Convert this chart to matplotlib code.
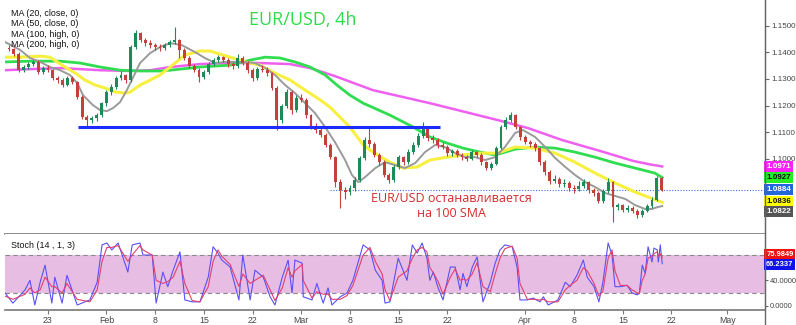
import numpy as np
import matplotlib
matplotlib.use('Agg')
import matplotlib.pyplot as plt
from matplotlib.lines import Line2D

plt.rcParams['font.family'] = ['Liberation Sans', 'DejaVu Sans']

# 12h candles, x = bar index
first_open = 1.1418
closes = [1.1412, 1.1395, 1.1333, 1.1345, 1.1356, 1.1364, 1.1326, 1.1341, 1.1333, 1.1303,
          1.1296, 1.1277, 1.1303, 1.1288, 1.1232, 1.1157, 1.1146, 1.1153, 1.1164, 1.1209,
          1.1251, 1.1270, 1.1303, 1.1315, 1.1296, 1.1420, 1.1472, 1.1446, 1.1435, 1.1427,
          1.1420, 1.1416, 1.1427, 1.1439, 1.1446, 1.1409, 1.1379, 1.1349, 1.1333, 1.1307,
          1.1326, 1.1356, 1.1371, 1.1382, 1.1371, 1.1356, 1.1349, 1.1379, 1.1360, 1.1333,
          1.1303, 1.1337, 1.1333, 1.1322, 1.1266, 1.1146, 1.1198, 1.1251, 1.1183, 1.1228,
          1.1221, 1.1164, 1.1119, 1.1108, 1.1089, 1.1052, 1.1006, 1.0912, 1.0882, 1.0875,
          1.0890, 1.0920, 1.1003, 1.1070, 1.1055, 1.1014, 1.0987, 1.0939, 1.0920, 1.0969,
          1.1006, 1.0987, 1.1025, 1.1052, 1.1085, 1.1115, 1.1078, 1.1070, 1.1052, 1.1044,
          1.1021, 1.1028, 1.1014, 1.1006, 1.1000, 1.1025, 1.1014, 1.0987, 1.0965, 1.0980,
          1.1040, 1.1119, 1.1146, 1.1164, 1.1119, 1.1082, 1.1063, 1.1055, 1.1040, 1.0987,
          1.0950, 1.0916, 1.0924, 1.0905, 1.0909, 1.0890, 1.0885, 1.0898, 1.0912, 1.0882,
          1.0871, 1.0841, 1.0879, 1.0912, 1.0818, 1.0825, 1.0807, 1.0815, 1.0803, 1.0788,
          1.0803, 1.0822, 1.0845, 1.0927, 1.0884]
highs = [1.1428, 1.1418, 1.1400, 1.1352, 1.1362, 1.1372, 1.1370, 1.1350, 1.1352, 1.1338,
         1.1312, 1.1305, 1.1310, 1.1312, 1.1294, 1.1238, 1.1165, 1.1162, 1.1172, 1.1215,
         1.1258, 1.1280, 1.1312, 1.1330, 1.1320, 1.1428, 1.1484, 1.1478, 1.1455, 1.1445,
         1.1436, 1.1430, 1.1435, 1.1448, 1.1495, 1.1452, 1.1415, 1.1385, 1.1356, 1.1340,
         1.1332, 1.1362, 1.1380, 1.1390, 1.1388, 1.1378, 1.1365, 1.1395, 1.1385, 1.1366,
         1.1340, 1.1345, 1.1352, 1.1345, 1.1328, 1.1272, 1.1205, 1.1262, 1.1258, 1.1240,
         1.1242, 1.1228, 1.1170, 1.1135, 1.1120, 1.1095, 1.1058, 1.1012, 1.0925, 1.0895,
         1.0900, 1.0930, 1.1012, 1.1080, 1.1120, 1.1062, 1.1020, 1.0995, 1.0948, 1.0978,
         1.1015, 1.1012, 1.1035, 1.1062, 1.1095, 1.1138, 1.1122, 1.1088, 1.1078, 1.1062,
         1.1050, 1.1035, 1.1036, 1.1022, 1.1015, 1.1032, 1.1030, 1.1020, 1.0992, 1.0988,
         1.1048, 1.1128, 1.1158, 1.1175, 1.1170, 1.1125, 1.1090, 1.1070, 1.1062, 1.1045,
         1.0995, 1.0958, 1.0940, 1.0930, 1.0925, 1.0915, 1.0900, 1.0915, 1.0925, 1.0918,
         1.0890, 1.0878, 1.0888, 1.0927, 1.0918, 1.0835, 1.0830, 1.0825, 1.0822, 1.0810,
         1.0812, 1.0830, 1.0855, 1.0935, 1.0932]
lows = [1.1405, 1.1388, 1.1326, 1.1325, 1.1338, 1.1348, 1.1318, 1.1320, 1.1326, 1.1295,
        1.1285, 1.1268, 1.1272, 1.1280, 1.1225, 1.1150, 1.1121, 1.1136, 1.1142, 1.1158,
        1.1200, 1.1240, 1.1262, 1.1298, 1.1285, 1.1290, 1.1412, 1.1438, 1.1425, 1.1418,
        1.1410, 1.1405, 1.1408, 1.1420, 1.1430, 1.1380, 1.1370, 1.1340, 1.1325, 1.1290,
        1.1300, 1.1320, 1.1350, 1.1362, 1.1362, 1.1345, 1.1338, 1.1342, 1.1352, 1.1322,
        1.1292, 1.1298, 1.1325, 1.1312, 1.1258, 1.1108, 1.1135, 1.1190, 1.1170, 1.1176,
        1.1212, 1.1155, 1.1110, 1.1098, 1.1080, 1.1044, 1.0998, 1.0895, 1.0816, 1.0850,
        1.0862, 1.0880, 1.0912, 1.0995, 1.1045, 1.1005, 1.0978, 1.0930, 1.0908, 1.0912,
        1.0960, 1.0975, 1.0980, 1.1018, 1.1045, 1.1078, 1.1068, 1.1060, 1.1042, 1.1035,
        1.1012, 1.1010, 1.1005, 1.0995, 1.0992, 1.0995, 1.1005, 1.0978, 1.0958, 1.0958,
        1.0975, 1.1035, 1.1110, 1.1140, 1.1110, 1.1072, 1.1055, 1.1045, 1.1030, 1.0978,
        1.0940, 1.0905, 1.0908, 1.0895, 1.0895, 1.0880, 1.0872, 1.0878, 1.0890, 1.0872,
        1.0860, 1.0832, 1.0835, 1.0872, 1.0762, 1.0808, 1.0798, 1.0800, 1.0795, 1.0777,
        1.0782, 1.0798, 1.0815, 1.0840, 1.0878]

# moving averages (bar index, price)
ma20_x = [-0.8, 2.3, 4.3, 6.4, 8.4, 10.5, 12.5, 14.0, 15.2, 17.2, 18.7, 20.1, 21.4, 22.8, 24.2,
          25.5, 26.9, 28.95, 31.0, 33.1, 35.5, 38.2, 40.2, 42.3, 44.4, 46.4, 48.5, 50.5, 52.6,
          54.6, 56.7, 58.7, 60.8, 62.8, 64.9, 66.9, 69.0, 70.4, 71.7, 73.1, 75.2, 77.2, 79.3,
          81.3, 83.4, 85.4, 87.5, 89.5, 91.6, 93.6, 95.7, 97.7, 99.8, 101.8, 103.9, 105.5,
          108.0, 110.1, 112.1, 114.2, 116.2, 118.3, 120.3, 122.4, 124.4, 126.5, 128.5, 130.6,
          132.0, 133.1, 134.1]
ma20_y = [1.1439, 1.1409, 1.1379, 1.1364, 1.1345, 1.1333, 1.1315, 1.1285, 1.1239, 1.1202,
          1.1183, 1.1179, 1.1191, 1.1213, 1.1258, 1.1307, 1.1360, 1.1397, 1.1420, 1.1435,
          1.1427, 1.1401, 1.1379, 1.1360, 1.1364, 1.1364, 1.1364, 1.1360, 1.1341, 1.1315,
          1.1277, 1.1247, 1.1209, 1.1172, 1.1119, 1.1063, 1.0995, 1.0939, 1.0912, 1.0931,
          1.0965, 1.0987, 1.0976, 1.0965, 1.0984, 1.1025, 1.1052, 1.1044, 1.1021, 1.1006,
          1.1006, 1.0995, 1.1006, 1.1044, 1.1097, 1.1108, 1.1082, 1.1044, 1.1003, 1.0969,
          1.0939, 1.0912, 1.0894, 1.0871, 1.0860, 1.0849, 1.0826, 1.0811, 1.0811, 1.0818,
          1.0822]
ma50_x = [-0.8, 2.3, 6.4, 8.4, 9.9, 11.5, 13.6, 15.6, 17.7, 19.7, 21.8, 23.8, 24.8, 26.9,
          29.0, 31.0, 33.1, 36.1, 39.2, 41.3, 45.4, 48.5, 51.5, 54.6, 57.7, 60.8, 63.9, 65.9,
          70.0, 72.7, 74.7, 78.2, 80.9, 83.8, 86.4, 89.9, 93.2, 96.7, 100.2, 103.9, 108.0,
          112.1, 116.2, 120.3, 124.4, 128.5, 131.2, 134.1]
ma50_y = [1.1382, 1.1382, 1.1386, 1.1382, 1.1364, 1.1345, 1.1322, 1.1296, 1.1277, 1.1266,
          1.1251, 1.1247, 1.1250, 1.1277, 1.1296, 1.1315, 1.1345, 1.1390, 1.1405, 1.1405,
          1.1382, 1.1364, 1.1352, 1.1322, 1.1296, 1.1258, 1.1221, 1.1194, 1.1119, 1.1052,
          1.1025, 1.0987, 1.0965, 1.0969, 1.0995, 1.1006, 1.1014, 1.1021, 1.1021, 1.1044,
          1.1040, 1.1021, 1.0987, 1.0946, 1.0909, 1.0875, 1.0856, 1.0836]
ma100_x = [-0.8, 4.3, 10.5, 14.6, 18.7, 22.8, 26.9, 31.0, 33.1, 39.2, 45.4, 49.5, 52.6, 55.6,
           58.7, 61.8, 64.9, 67.6, 70.0, 72.7, 78.2, 83.0, 86.4, 89.9, 93.2, 96.7, 99.8, 103.9,
           108.0, 112.1, 116.2, 120.3, 124.4, 128.5, 132.6, 134.1]
ma100_y = [1.1364, 1.1367, 1.1367, 1.1360, 1.1345, 1.1333, 1.1330, 1.1330, 1.1333, 1.1345,
           1.1352, 1.1371, 1.1382, 1.1379, 1.1364, 1.1345, 1.1315, 1.1273, 1.1239, 1.1209,
           1.1164, 1.1119, 1.1082, 1.1059, 1.1040, 1.1025, 1.1014, 1.1036, 1.1044, 1.1040,
           1.1025, 1.1006, 1.0984, 1.0965, 1.0946, 1.0929]
ma200_x = [-0.8, 4.3, 10.5, 18.7, 24.8, 29.0, 33.1, 39.2, 45.4, 51.5, 57.7, 61.8, 66.9, 74.7,
           86.4, 100.2, 106.6, 113.6, 121.4, 128.1, 131.2, 134.1]
ma200_y = [1.1333, 1.1337, 1.1341, 1.1333, 1.1330, 1.1333, 1.1345, 1.1356, 1.1360, 1.1360,
           1.1356, 1.1341, 1.1311, 1.1258, 1.1209, 1.1146, 1.1115, 1.1070, 1.1029, 1.0992,
           1.0980, 1.0971]

support = 1.1120
support_from, support_to = 14.2, 88.5
last_price = 1.0884
last_from = 66

# stochastic (14, 1, 3)
k_x = [-0.8, 0.8, 3.3, 4.3, 5.3, 6.4, 7.4, 8.8, 9.4, 10.9, 11.9, 14.0, 16.6, 18.1, 19.1, 20.1,
       21.1, 22.4, 24.4, 25.3, 26.9, 27.5, 29.4, 30.2, 31.6, 32.6, 33.7, 35.1, 36.1, 37.6, 39.2,
       40.9, 41.9, 42.9, 43.7, 45.4, 47.2, 48.0, 49.5, 50.5, 52.2, 53.6, 54.6, 56.1, 57.3, 58.1,
       58.7, 60.2, 60.4, 62.2, 63.2, 64.5, 65.5, 66.3, 68.0, 69.4, 70.6, 72.7, 74.1, 75.2, 76.6,
       77.2, 78.2, 79.9, 81.7, 82.8, 83.8, 84.8, 85.8, 86.4, 87.1, 88.1, 89.1, 90.6, 91.6, 92.6,
       93.2, 94.0, 95.1, 96.1, 97.3, 98.8, 99.8, 100.8, 101.8, 103.3, 104.3, 104.9, 106.4,
       107.6, 109.0, 109.7, 110.7, 112.7, 114.2, 115.2, 116.6, 117.9, 118.7, 120.1, 121.1,
       121.9, 123.0, 123.8, 124.4, 125.5, 126.9, 127.9, 129.0, 129.4, 130.0, 130.6, 131.2,
       132.0, 132.4, 133.1, 133.3, 133.7, 134.1]
k_y = [20, 4, 25, 40, 1, 37, 64, 4, 45, 4, 48, 1, 9, 37, 96, 99, 88, 99, 53, 96, 99, 80, 80, 4,
       53, 30, 56, 85, 9, 6, 6, 45, 93, 83, 72, 61, 9, 80, 9, 56, 45, 14, 1, 45, 72, 20, 72, 67,
       14, 9, 35, 4, 28, 1, 14, 20, 40, 96, 88, 56, 40, 4, 6, 75, 40, 96, 83, 99, 75, 40, 53,
       28, 9, 61, 61, 25, 51, 30, 61, 77, 6, 37, 67, 88, 96, 93, 61, 9, 9, 12, 6, 14, 1, 9, 37,
       30, 48, 72, 45, 30, 6, 36, 99, 80, 30, 30, 32, 20, 17, 20, 64, 51, 93, 69, 91, 88, 69,
       96, 66.2]
d_y = [15, 10, 18, 28, 20, 25, 45, 30, 30, 20, 35, 10, 6, 25, 70, 92, 92, 95, 70, 80, 95, 88,
       80, 40, 35, 38, 45, 70, 35, 8, 6, 30, 70, 88, 78, 65, 30, 50, 35, 40, 48, 25, 8, 28, 60,
       45, 55, 65, 40, 12, 22, 18, 18, 10, 10, 16, 32, 80, 92, 70, 50, 25, 8, 45, 55, 75, 88,
       92, 85, 60, 52, 38, 18, 45, 58, 40, 42, 40, 50, 68, 30, 22, 50, 75, 90, 94, 75, 35, 10,
       10, 9, 10, 6, 6, 25, 32, 40, 60, 55, 35, 15, 22, 75, 88, 55, 32, 32, 25, 20, 19, 40, 50,
       75, 78, 82, 85, 78, 82, 76]

tick_pos = [8, 20, 30, 40, 50, 60, 70, 80, 90, 106, 116, 126, 136, 147.5]
tick_lab = ['23', 'Feb', '8', '15', '22', 'Mar', '8', '15', '22', 'Apr', '8', '15', '22', 'May']
price_ticks = [1.10, 1.11, 1.12, 1.13, 1.14, 1.15]

ma_legend = ['MA (20, close, 0)', 'MA (50, close, 0)', 'MA (100, high, 0)', 'MA (200, high, 0)']
price_tags = [(1.0971, '1.0971', '#ff22ff', 'white'), (1.0929, '1.0927', '#22ee22', '#111111'),
              (1.0884, '1.0884', '#2266dd', 'white'), (1.0838, '1.0836', '#ffff00', '#111111'),
              (1.0801, '1.0822', '#555555', 'white')]

W, H = 796, 325
fig = plt.figure(figsize=(W / 100, H / 100), dpi=100)
ax = fig.add_axes([5 / W, 1 - 234 / H, 760 / W, 234 / H])
ax2 = fig.add_axes([5 / W, 1 - 310 / H, 760 / W, 76 / H], sharex=ax)

green_c, red_c = '#1e8a5a', '#c4403a'
x = np.arange(len(closes))
c = np.array(closes)
o = np.r_[first_open, c[:-1]]
up = c >= o
cols = np.where(up, green_c, red_c)

ax.plot(ma200_x, ma200_y, color='#f060f0', lw=1.8, zorder=2)
ax.plot(ma100_x, ma100_y, color='#30dd50', lw=2.0, zorder=2)
ax.plot(ma50_x, ma50_y, color='#f8f040', lw=2.2, zorder=2)
ax.plot(ma20_x, ma20_y, color='#9a9a9a', lw=1.4, zorder=2)

ax.vlines(x, lows, highs, colors=cols, lw=0.8, zorder=3)
ax.bar(x, np.maximum(np.abs(c - o), 0.0002), bottom=np.minimum(c, o), width=0.6,
       color=cols, zorder=3)

ax.hlines(support, support_from, support_to, color='#1a2cff', lw=2.2, zorder=4)
ax.hlines(last_price, last_from, 155.2, color='#3a6fd8', lw=0.8, linestyles=(0, (1, 1.5)),
          zorder=1)

ax.set_xlim(-0.82, 155.2)
ax.set_ylim(1.0717, 1.1597)
for s in ['top', 'left']:
    ax.spines[s].set_visible(False)
ax.spines['bottom'].set_color('#777777')
ax.spines['bottom'].set_linewidth(1.2)
ax.spines['right'].set_color('#666666')
ax.yaxis.tick_right()
ax.set_yticks(price_ticks)
ax.set_yticklabels(['%.4f' % p for p in price_ticks])
ax.tick_params(axis='y', labelsize=5.8, labelcolor='#444444', length=3, color='#666666', pad=1.5)
ax.tick_params(axis='x', bottom=False, labelbottom=False)

for y, txt, bg, fg in price_tags:
    ax.text(1.0015, y, txt, transform=ax.get_yaxis_transform(), fontsize=5.8, fontweight='bold',
            color=fg, va='center', ha='left', clip_on=False, zorder=6,
            bbox=dict(boxstyle='square,pad=0.25', fc=bg, ec='none'))

for k, t in enumerate(ma_legend):
    ax.text(6 / 760, 1 - (13.5 + 10.3 * k) / 234, t, transform=ax.transAxes, fontsize=6.4,
            color='#111111', va='center', ha='left')

fig.text(303 / W, 1 - 20 / H, 'EUR/USD, 4h', color='#2edc4a', fontsize=13, ha='center',
         va='center', family=['Open Sans', 'DejaVu Sans'])
fig.text(451 / W, 1 - 206 / H, 'EUR/USD останавливается\nна 100 SMA', color='#d42a2a',
         fontsize=9, ha='center', va='center', linespacing=1.2,
         family=['Open Sans', 'DejaVu Sans'])

# stochastic panel
ax2.axhspan(20, 80, color='#e8bde4', lw=0, zorder=0)
ax2.axhline(80, color='#888888', lw=0.8, ls=(0, (4, 3)), zorder=1)
ax2.axhline(20, color='#888888', lw=0.8, ls=(0, (4, 3)), zorder=1)
ax2.plot(k_x, k_y, color='#5a50f5', lw=0.8, zorder=2)
ax2.plot(k_x, d_y, color='#e04070', lw=0.8, zorder=3)
ax2.set_ylim(-6.9, 113.2)
for s in ['top', 'left']:
    ax2.spines[s].set_visible(False)
ax2.spines['bottom'].set_color('#777777')
ax2.spines['bottom'].set_linewidth(1.2)
ax2.spines['right'].set_color('#666666')
ax2.yaxis.tick_right()
ax2.set_yticks([0, 40])
ax2.set_yticklabels(['0.0000', '40.0000'])
ax2.tick_params(axis='y', labelsize=5.4, labelcolor='#444444', length=2.5, color='#666666', pad=1)
ax2.set_xticks(tick_pos)
ax2.set_xticklabels(tick_lab)
ax2.tick_params(axis='x', labelsize=6.3, labelcolor='#444444', length=3, color='#777777', pad=1)
ax2.text(6 / 760, 1 - 11 / 76, 'Stoch (14 , 1, 3)', transform=ax2.transAxes, fontsize=6.4,
         color='#111111', va='center', ha='left')
ax2.text(1.0015, 80.5, '75.9849', transform=ax2.get_yaxis_transform(), fontsize=5.4,
         fontweight='bold', color='white', va='center', ha='left', clip_on=False,
         bbox=dict(boxstyle='square,pad=0.25', fc='#ee1111', ec='none'))
ax2.text(1.0015, 65.5, '66.2337', transform=ax2.get_yaxis_transform(), fontsize=5.4,
         fontweight='bold', color='white', va='center', ha='left', clip_on=False,
         bbox=dict(boxstyle='square,pad=0.25', fc='#1111ee', ec='none'))

fig.add_artist(Line2D([765 / W, 765 / W], [0, 1], transform=fig.transFigure, color='#666666',
                      lw=1.0))

fig.savefig('out.png', dpi=100)
